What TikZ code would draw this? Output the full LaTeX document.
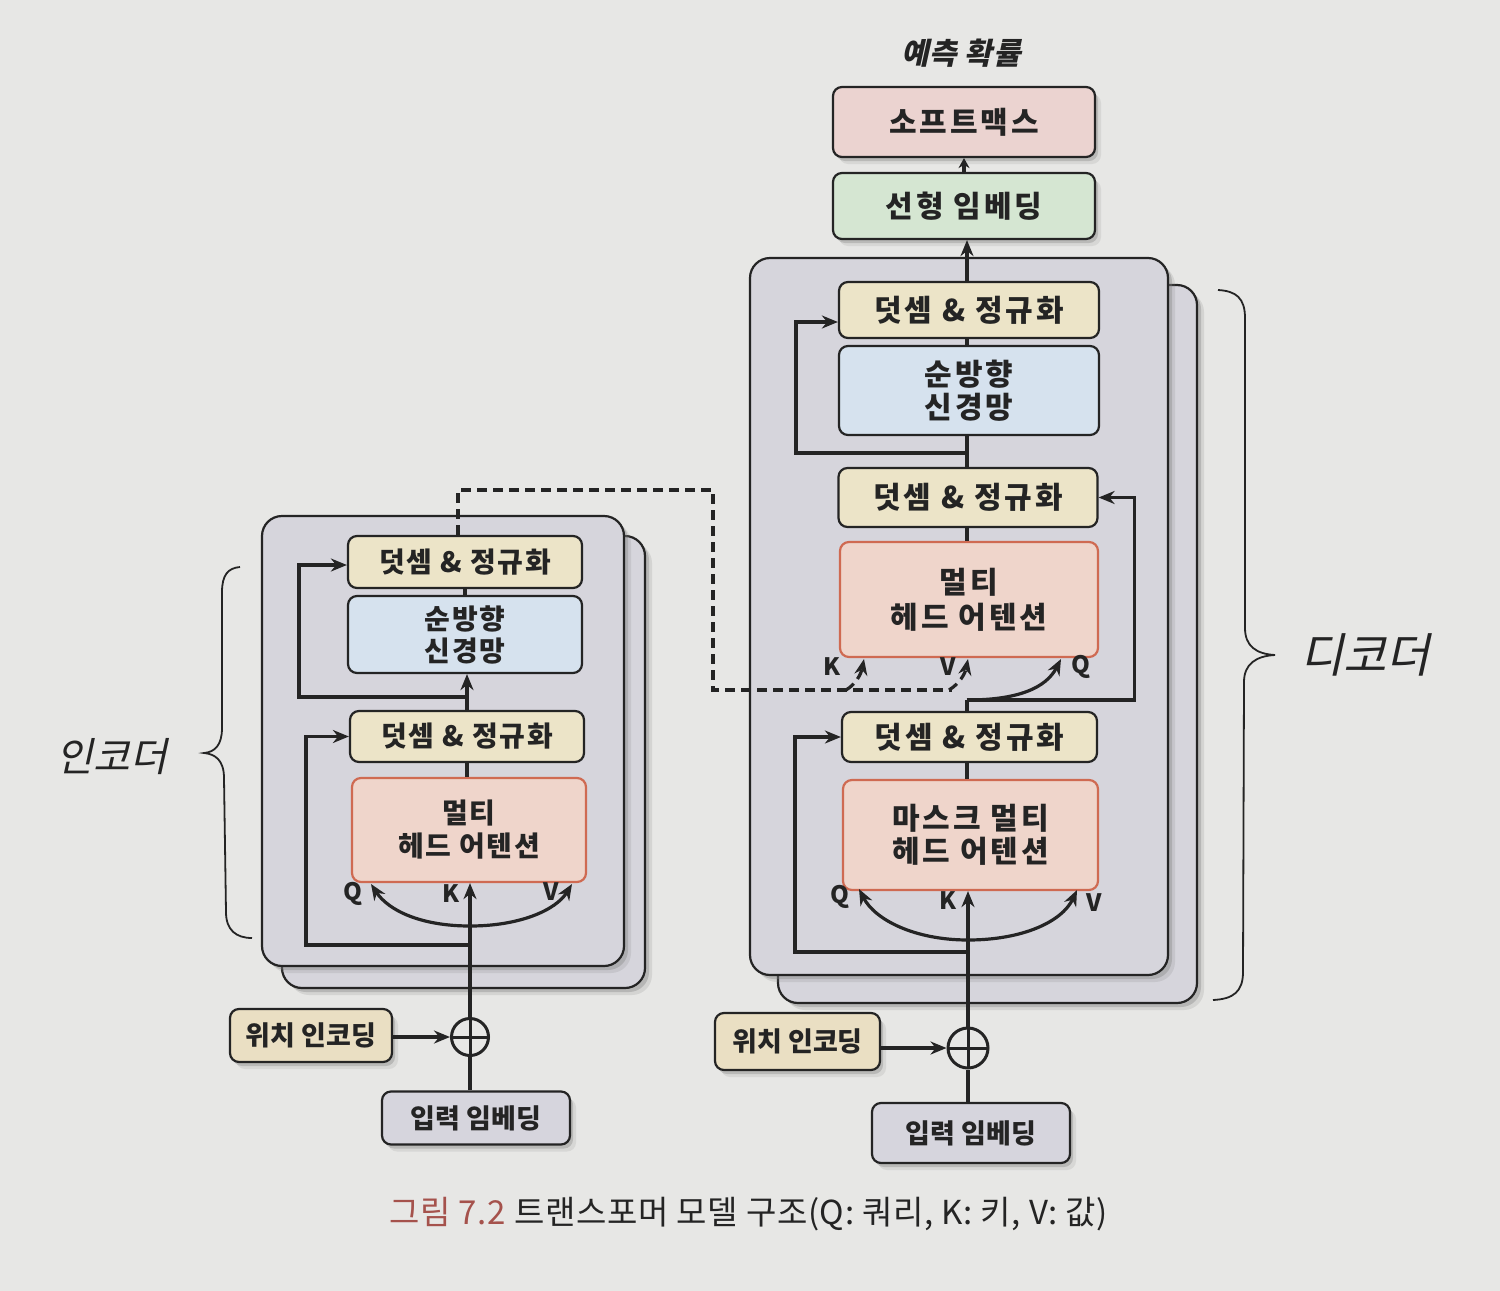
\documentclass[tikz,border=0pt]{standalone}
\usepackage{fontspec}
\setmainfont{Noto Sans CJK KR}
\newfontfamily\krsl{Noto Sans CJK KR}[FakeSlant=0.22]
\usetikzlibrary{arrows.meta,shadows,calc}
\definecolor{page}{HTML}{E7E7E5}
\definecolor{card}{HTML}{D6D5DC}
\definecolor{ink}{HTML}{242424}
\definecolor{addn}{HTML}{ECE4C8}
\definecolor{ffn}{HTML}{D6E2EE}
\definecolor{mha}{HTML}{EFD5CB}
\definecolor{mhaedge}{HTML}{CF6A52}
\definecolor{smax}{HTML}{EBD3D0}
\definecolor{lin}{HTML}{D5E6D2}
\definecolor{posc}{HTML}{EADFC3}
\definecolor{inp}{HTML}{D6D5DD}
\definecolor{capred}{HTML}{A5524C}
\begin{document}
\begin{tikzpicture}[x=1pt,y=-1pt,
  cardst/.style={draw=ink, line width=2.2pt, rounded corners=20pt, fill=card,
     drop shadow={shadow xshift=4pt,shadow yshift=-4pt,opacity=.35},
     drop shadow={shadow xshift=7pt,shadow yshift=-7pt,opacity=.18}},
  blk/.style={draw=ink, line width=2.2pt, rounded corners=9pt, align=center, inner sep=0pt,
     font=\fontsize{27}{33}\selectfont\bfseries, text=ink},
  etx/.style={font=\fontsize{28}{34}\selectfont\bfseries\addfontfeatures{LetterSpace=6}},
  dtx/.style={font=\fontsize{30}{36}\selectfont\bfseries\addfontfeatures{LetterSpace=10}},
  shad/.style={drop shadow={shadow xshift=3pt,shadow yshift=-4pt,opacity=.35},
     drop shadow={shadow xshift=6pt,shadow yshift=-7pt,opacity=.15}},
  an/.style={blk, fill=addn},
  ff/.style={blk, fill=ffn},
  mh/.style={blk, fill=mha, draw=mhaedge},
  conn/.style={draw=ink, line width=3.2pt},
  arr/.style={conn, -{Stealth[length=16pt,width=13pt]}},
  sarr/.style={conn, -{Stealth[length=10pt,width=11pt]}},
  dsh/.style={conn, dash pattern=on 10pt off 6pt},
  dsharr/.style={dsh, -{Stealth[length=16pt,width=13pt]}},
  lbl/.style={font=\fontsize{24}{26}\selectfont\bfseries, text=ink},
  oplus/.style={circle, draw=ink, line width=3pt, inner sep=0pt, fill=page,
     path picture={\draw[ink, line width=3pt] (path picture bounding box.north) -- (path picture bounding box.south)
       (path picture bounding box.west) -- (path picture bounding box.east);}}
]
\fill[page] (0,0) rectangle (1500,1291);
\useasboundingbox (0,0) rectangle (1500,1291);

% ---------------- Encoder ----------------
\node[cardst, minimum width=363pt, minimum height=452pt] (eCB) at (463.5,762) {};
\node[cardst, minimum width=362pt, minimum height=450pt] (eCF) at (443,741) {};

\node[an, etx, minimum width=234pt, minimum height=52pt] (eAN2) at (465,562) {덧셈 \& 정규화};
\node[ff, etx, minimum width=234pt, minimum height=77pt] (eFF) at (465,634.5) {순방향\\[-2pt]신경망};
\node[an, etx, minimum width=234pt, minimum height=51pt] (eAN1) at (467,736.5) {덧셈 \& 정규화};
\node[mh, etx, minimum width=234pt, minimum height=104pt] (eMHA) at (469,830) {멀티\\[-1pt]헤드 어텐션};

\node[blk, fill=posc, shad, minimum width=162pt, minimum height=53pt] (eP) at (311,1035.5) {위치 인코딩};
\node[oplus, minimum size=37pt] (eO) at (470,1037) {};
\node[blk, fill=inp, shad, minimum width=188pt, minimum height=53pt] (eI) at (476,1118) {입력 임베딩};

\coordinate (eJ1) at (467,697);
\coordinate (eJ2) at (470,945);
\coordinate (eJ3) at (470,926);

\draw[conn] (eI.north -| eO) -- (eO.south);
\draw[arr] (eP.east |- eO.west) -- (eO.west);
\draw[arr] (eO.north) -- (eO |- eMHA.south);
\draw[conn] (eMHA.north -| eJ1) -- (eAN1.south -| eJ1);
\draw[arr] (eAN1.north -| eJ1) -- (eFF.south -| eJ1);
\draw[conn] (eFF.north) -- (eAN2.south);
\draw[arr] (eJ1) -| ($(eAN2.west)+(-48,3)$) -- ($(eAN2.west)+(0,3)$);
\draw[arr] (eJ2) -| ($(eAN1.west)+(-43,0)$) -- (eAN1.west);
\draw[arr] (eJ3) .. controls (420,926) and (388,910) .. (371,884);
\draw[arr] (eJ3) .. controls (520,926) and (556,910) .. (572,884);
\node[lbl] (eQl) at (353,894) {Q};
\node[lbl] (eKl) at (451,894) {K};
\node[lbl] (eVl) at (551,892) {V};

% ---------------- Decoder ----------------
\node[cardst, minimum width=419pt, minimum height=718pt] (dCB) at (987.5,644) {};
\node[cardst, minimum width=418pt, minimum height=717pt] (dCF) at (959,616.5) {};

\node[an, dtx, minimum width=260pt, minimum height=56pt] (dAN3) at (969,310) {덧셈 \& 정규화};
\node[ff, dtx, minimum width=260pt, minimum height=89pt] (dFF) at (969,390.5) {순방향\\[-3pt]신경망};
\node[an, dtx, minimum width=259pt, minimum height=59pt] (dAN2) at (968,497.5) {덧셈 \& 정규화};
\node[mh, dtx, minimum width=258pt, minimum height=115pt] (dMHA) at (969,599.5) {멀티\\[-1pt]헤드 어텐션};
\node[an, dtx, minimum width=255pt, minimum height=50pt] (dAN1) at (969.5,737) {덧셈 \& 정규화};
\node[mh, dtx, minimum width=255pt, minimum height=110pt] (dMM) at (970.5,835) {마스크 멀티\\[-3pt]헤드 어텐션};

\node[blk, dtx, fill=lin, shad, minimum width=262pt, minimum height=66pt] (dL) at (964,206) {선형 임베딩};
\node[blk, dtx, fill=smax, shad, minimum width=262pt, minimum height=70pt] (dS) at (964,122) {소프트맥스};
\node[font=\krsl\fontsize{30}{32}\selectfont\bfseries\addfontfeatures{LetterSpace=3}, text=ink] (dOut) at (961,53) {예측 확률};

\node[blk, fill=posc, shad, minimum width=165pt, minimum height=57pt] (dP) at (797.5,1041.5) {위치 인코딩};
\node[oplus, minimum size=40pt] (dO) at (968,1048) {};
\node[blk, fill=inp, shad, minimum width=198pt, minimum height=60pt] (dI) at (971,1133) {입력 임베딩};

\coordinate (dJ1) at (967,453);
\coordinate (dJ2) at (967,700);
\coordinate (dJ3) at (968,952);
\coordinate (dJ4) at (968,940);

\draw[conn] (dI.north -| dO) -- (dO.south);
\draw[arr] (dP.east |- dO.west) -- (dO.west);
\draw[arr] (dO.north) -- (dO |- dMM.south);
\draw[conn] (dMM.north -| dJ2) -- (dAN1.south -| dJ2);
\draw[conn] (dAN1.north -| dJ2) -- (dJ2);
\draw[arr] (dJ2) -| ($(dAN2.east)+(36,0)$) -- (dAN2.east);
\draw[arr] (dJ2) .. controls (1018,700) and (1046,688) .. (1061,659);
\draw[conn] (dMHA.north -| dJ1) -- (dAN2.south -| dJ1);
\draw[conn] (dAN2.north -| dJ1) -- (dFF.south -| dJ1);
\draw[conn] (dFF.north -| dJ1) -- (dAN3.south -| dJ1);
\draw[arr] (dJ1) -| ($(dAN3.west)+(-42,12)$) -- ($(dAN3.west)+(0,12)$);
\draw[arr] (dJ3) -| ($(dAN1.west)+(-46,0)$) -- (dAN1.west);
\draw[arr] (dAN3.north -| dJ1) -- (dL.south -| dJ1);
\draw[sarr] (dL.north) -- (dS.south);
\draw[arr] (dJ4) .. controls (915,940) and (875,920) .. (859,889);
\draw[arr] (dJ4) .. controls (1022,940) and (1062,922) .. (1077,890);
\node[lbl] (dQl) at (840,897) {Q};
\node[lbl] (dKl) at (948,901) {K};
\node[lbl] (dVl) at (1094,903) {V};
\node[lbl] (dKl2) at (832,667) {K};
\node[lbl] (dVl2) at (948,667) {V};
\node[lbl] (dQl2) at (1081,667) {Q};

% cross attention from encoder (dashed)
\coordinate (x0) at ($(eAN2.north)+(-7,0)$);
\coordinate (x1) at (458,490);
\coordinate (x2) at (713,490);
\coordinate (x3) at (713,690);
\coordinate (x4) at (952,690);
\draw[dsh] (x0) -- (x1) -- (x2) -- (x3) -- (x4);
\draw[dsharr] (846,690) .. controls (856,684) and (861,674) .. (864,659);
\draw[dsharr] (949,690) .. controls (959,684) and (965,674) .. (968,659);

% ---------------- Braces and labels ----------------
\draw[ink, line width=1.8pt] (240,567) .. controls (228,568) and (222,575) .. (222,592)
  -- (222,728) .. controls (222,745) and (215,752) .. (204,753)
  .. controls (215,754) and (224,760) .. (224,778)
  -- (226,912) .. controls (226,930) and (236,938) .. (252,938);
\node[font=\krsl\fontsize{40}{44}\selectfont, text=ink] (encL) at (112,757) {인코더};

\draw[ink, line width=1.8pt] (1218,290) .. controls (1236,291) and (1245,298) .. (1245,318)
  -- (1245,628) .. controls (1245,646) and (1256,654) .. (1275,655)
  .. controls (1256,656) and (1244,664) .. (1244,682)
  -- (1243,972) .. controls (1243,992) and (1233,999) .. (1213,1000);
\node[font=\krsl\fontsize{47}{50}\selectfont, text=ink] (decL) at (1365,655) {디코더};

% caption
\node[font=\fontsize{33}{38}\selectfont\addfontfeatures{LetterSpace=2}, text=ink, anchor=west] (cap) at (386,1214)
  {\textcolor{capred}{그림 7.2} 트랜스포머 모델 구조(Q: 쿼리, K: 키, V: 값)};
\end{tikzpicture}
\end{document}
